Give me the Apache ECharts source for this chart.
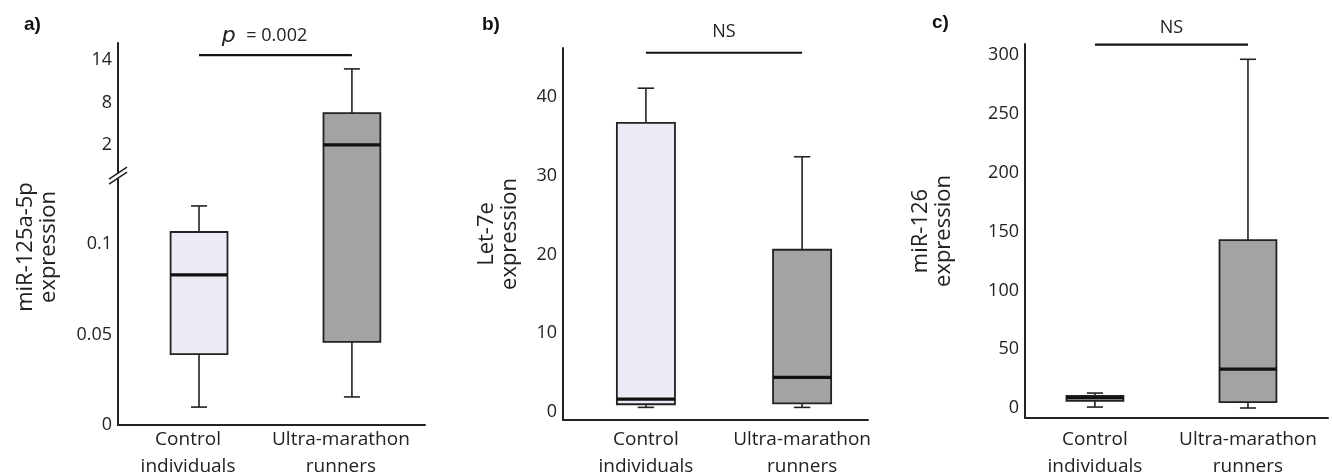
<!DOCTYPE html>
<html>
<head>
<meta charset="utf-8">
<script src="https://cdn.jsdelivr.net/npm/echarts@6/dist/echarts.min.js"></script>
<style>
  html, body { margin: 0; padding: 0; background: #fff; }
  #charts { width: 1332px; height: 475px; }
</style>
</head>
<body>
<div id="charts"></div>
<script>
// groups (x positions 0 and 1 on each panel)
var categories = ['Control\nindividuals', 'Ultra-marathon\nrunners'];

// box stats: [min, q1, median, q3, max]
var mir125Control = [0.0099, 0.0392, 0.0829, 0.1066, 0.121];
var mir125Ultra = [0.0155, 0.0459, 2.0, 6.5, 12.74];
var let7eControl = [0.6, 1.0, 1.65, 36.7, 41.1];
var let7eUltra = [0.6, 1.1, 4.4, 20.6, 32.4];
var mir126Control = [0.8, 6, 8.5, 10.2, 12.7];
var mir126Ultra = [0, 5, 33, 142.7, 296.5];

// tick labels
var ticksA = [0, 0.05, 0.1, 2, 8, 14];
var ticksB = [0, 10, 20, 30, 40];
var ticksC = [0, 50, 100, 150, 200, 250, 300];

// significance brackets
var sigLevels = [14.7, 45.6, 309];
var sigTexts = ['{i|p} = 0.002', 'NS', 'NS'];

// panel a has a broken y axis: lower part (0 - 0.14) and upper part (2 - 14)
// with different scales, so map values onto one display axis
function brokenA(v) {
	return v < 1 ? v * 1000 : 154.7 + (v - 2) * 3.91;
}
var breakAt = 138;

var FONT = 'Open Sans';
var INK = '#222';
var fills = ['#ebebf6', '#a3a3a3'];

function boxData(control, ultra, tf) {
	tf = tf || function(v) { return v; };
	return [control, ultra].map(function(s, i) {
		return [i].concat(s.map(tf));
	});
}

function renderBox(params, api) {
	var x = api.value(0);
	var pMin = api.coord([x, api.value(1)]);
	var pQ1 = api.coord([x, api.value(2)]);
	var pMed = api.coord([x, api.value(3)]);
	var pQ3 = api.coord([x, api.value(4)]);
	var pMax = api.coord([x, api.value(5)]);
	var unit = api.size([1, 0])[0];
	var bw = unit * 0.372;
	var cw = unit * 0.105;
	var cx = pMed[0];
	var line = { stroke: INK, lineWidth: 1.6 };
	return {
		type: 'group',
		children: [
			{ type: 'line', shape: { x1: cx, y1: pMax[1], x2: cx, y2: pQ3[1] }, style: line },
			{ type: 'line', shape: { x1: cx - cw / 2, y1: pMax[1], x2: cx + cw / 2, y2: pMax[1] }, style: line },
			{ type: 'line', shape: { x1: cx, y1: pMin[1], x2: cx, y2: pQ1[1] }, style: line },
			{ type: 'line', shape: { x1: cx - cw / 2, y1: pMin[1], x2: cx + cw / 2, y2: pMin[1] }, style: line },
			{ type: 'rect', shape: { x: cx - bw / 2, y: pQ3[1], width: bw, height: pQ1[1] - pQ3[1] },
				style: { fill: fills[x], stroke: INK, lineWidth: 1.8 } },
			{ type: 'line', shape: { x1: cx - bw / 2, y1: pMed[1], x2: cx + bw / 2, y2: pMed[1] },
				style: { stroke: '#111', lineWidth: 3.2 } }
		]
	};
}

var grids = [
	{ left: 118, top: 43, right: 907, bottom: 50, outerBoundsMode: 'none' },
	{ left: 563, top: 48, right: 464, bottom: 55, outerBoundsMode: 'none' },
	{ left: 1025, top: 44, right: 4, bottom: 57, outerBoundsMode: 'none' }
];
var xRanges = [[-0.53, 1.478], [-0.531, 1.422], [-0.457, 1.523]];
var yRanges = [[0, 211], [-1.0, 46.2], [-8.5, 309.5]];
var yNames = ['miR-125a-5p\nexpression', 'Let-7e\nexpression', 'miR-126\nexpression'];
var yNameGaps = [58, 42, 70];
var xLabelMargins = [1, 6, 8];
var tickSets = [ticksA, ticksB, ticksC];
var tickTf = [brokenA, null, null];

var xAxes = [], yAxes = [], series = [];
for (var i = 0; i < 3; i++) {
	xAxes.push({
		type: 'value', gridIndex: i, min: xRanges[i][0], max: xRanges[i][1],
		splitLine: { show: false },
		axisTick: { show: false },
		axisLine: { onZero: false, lineStyle: { color: INK, width: 2 } },
		axisLabel: {
			customValues: [0, 1],
			formatter: function(v) { return categories[Math.round(v)]; },
			fontFamily: FONT, fontSize: 19, color: INK, lineHeight: 27, margin: xLabelMargins[i],
			padding: i === 0 ? [0, 22, 0, 0] : 0
		}
	});
	(function(idx) {
		var ticks = tickSets[idx];
		var tf = tickTf[idx] || function(v) { return v; };
		var pos = ticks.map(tf);
		yAxes.push({
			type: 'value', gridIndex: idx, min: yRanges[idx][0], max: yRanges[idx][1],
			splitLine: { show: false },
			axisTick: { show: false },
			axisLine: { show: true, onZero: false, lineStyle: { color: INK, width: 2 } },
			axisLabel: {
				customValues: pos,
				formatter: function(v) {
					for (var k = 0; k < pos.length; k++) {
						if (Math.abs(pos[k] - v) < 1e-6) return String(ticks[k]);
					}
					return '';
				},
				fontFamily: FONT, fontSize: 18, color: INK, margin: 6
			},
			name: yNames[idx], nameLocation: 'middle', nameRotate: 90, nameGap: yNameGaps[idx],
			nameTextStyle: {
				fontFamily: FONT, fontSize: 22, color: INK, lineHeight: 23,
				padding: idx === 0 ? [0, 26, 0, 0] : 0
			}
		});
	})(i);
}

var panels = [
	boxData(mir125Control, mir125Ultra, brokenA),
	boxData(let7eControl, let7eUltra),
	boxData(mir126Control, mir126Ultra)
];

panels.forEach(function(data, i) {
	var lv = i === 0 ? brokenA(sigLevels[0]) : sigLevels[i];
	series.push({
		type: 'custom', xAxisIndex: i, yAxisIndex: i,
		renderItem: renderBox,
		encode: { x: 0, y: [1, 2, 3, 4, 5] },
		data: data
	});
	series.push({
		type: 'line', xAxisIndex: i, yAxisIndex: i,
		data: [[0, lv], [1, lv]],
		showSymbol: false, silent: true,
		lineStyle: { color: '#111', width: 2.2 }
	});
	series.push({
		type: 'scatter', xAxisIndex: i, yAxisIndex: i,
		data: [[0.5, lv]], symbolSize: 0, silent: true,
		itemStyle: { opacity: 1, color: INK },
		label: {
			show: true, position: 'top', distance: i === 1 ? 12 : 8,
			formatter: sigTexts[i],
			fontFamily: FONT, fontSize: 18, color: INK, opacity: 1,
			padding: i === 0 ? [0, 22, 0, 0] : 0,
			rich: { i: { fontStyle: 'italic', fontFamily: 'DejaVu Sans', fontSize: 22, color: INK, padding: [0, 6, 0, 0] } }
		}
	});
});

var titleStyle = { fontFamily: 'Liberation Sans', fontSize: 19, fontWeight: 'bold', color: '#111' };
var option = {
	animation: false,
	backgroundColor: '#fff',
	title: [
		{ text: 'a)', left: 19, top: 10, textStyle: titleStyle },
		{ text: 'b)', left: 477, top: 10, textStyle: titleStyle },
		{ text: 'c)', left: 927, top: 8, textStyle: titleStyle }
	],
	grid: grids,
	xAxis: xAxes,
	yAxis: yAxes,
	series: series
};

var myChart = echarts.init(document.getElementById('charts'));
myChart.setOption(option);

// axis break marks on panel a
var by = myChart.convertToPixel({ yAxisIndex: 0 }, breakAt);
var bx = myChart.convertToPixel({ xAxisIndex: 0 }, xRanges[0][0]);
myChart.setOption({
	graphic: [
		{ type: 'polygon', shape: { points: [[bx - 9, by + 4], [bx + 9, by - 8], [bx + 9, by - 3], [bx - 9, by + 9]] },
			style: { fill: '#fff' }, z: 100 },
		{ type: 'line', shape: { x1: bx - 9, y1: by + 4, x2: bx + 9, y2: by - 8 }, style: { stroke: INK, lineWidth: 1.5 }, z: 101 },
		{ type: 'line', shape: { x1: bx - 9, y1: by + 9, x2: bx + 9, y2: by - 3 }, style: { stroke: INK, lineWidth: 1.5 }, z: 101 }
	]
});
</script>
</body>
</html>
